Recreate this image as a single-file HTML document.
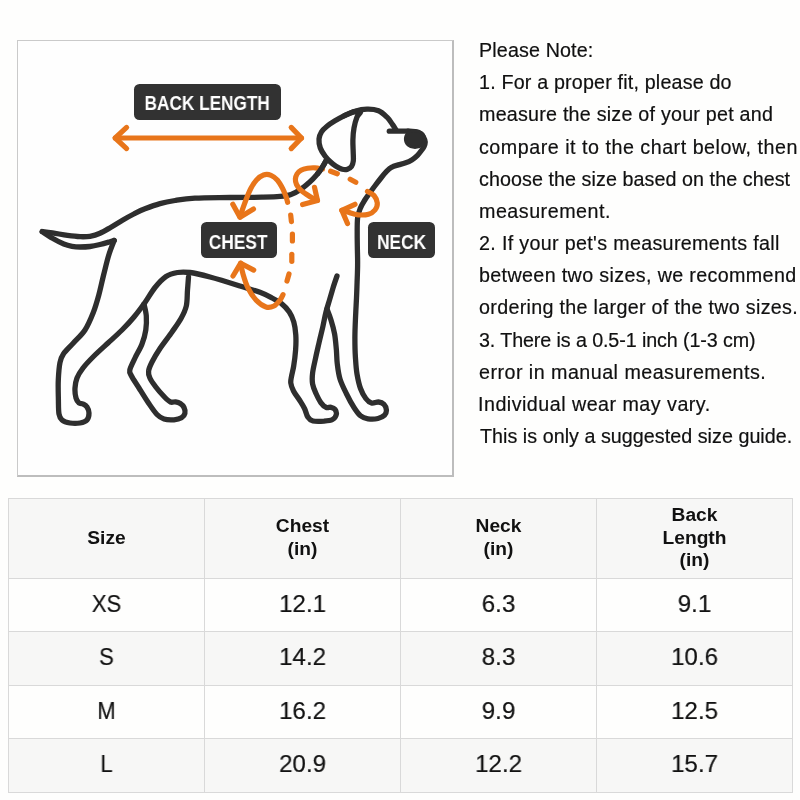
<!DOCTYPE html>
<html><head><meta charset="utf-8"><title>Size guide</title>
<style>
html,body{margin:0;padding:0;background:#fefefd;}
body{width:800px;height:800px;position:relative;overflow:hidden;font-family:"Liberation Sans",sans-serif;color:#1a1a1a;}
.box{position:absolute;left:17px;top:40px;width:434px;height:434px;background:#fefefe;border-left:1px solid #cacaca;border-top:1px solid #cacaca;border-right:2px solid #bdbdbd;border-bottom:2px solid #bdbdbd;box-sizing:content-box;}
svg{position:absolute;left:0;top:0;}
.t{position:absolute;font-size:19.7px;line-height:24px;white-space:nowrap;color:#101010;-webkit-text-stroke:0.2px #101010;}
.lab{position:absolute;background:#323232;border-radius:5.5px;}
.lab span{position:absolute;left:0;top:0;width:100%;height:100%;color:#fff;font-weight:bold;font-size:19.7px;text-align:center;white-space:nowrap;transform:scaleX(0.88);transform-origin:50% 50%;}
.bg,.ln,.th,.td{position:absolute;}
.t,.th,.td,.lab span{will-change:transform;}
.ln{background:#d9d9d9;}
.th{width:197px;text-align:center;font-weight:bold;font-size:19.2px;line-height:22px;color:#111;white-space:nowrap;}
.td{width:197px;text-align:center;font-size:24.5px;line-height:30px;color:#121212;-webkit-text-stroke:0.2px #121212;transform:scaleX(0.9);}
.td.n{transform:scaleX(0.985);}
</style></head><body>
<div class="box"></div>
<svg width="800" height="800" viewBox="0 0 800 800" fill="none" stroke-linecap="round" stroke-linejoin="round">
<g stroke="#2e2e2e" stroke-width="5.3">
<path d="M42.2 231.6 C43.9 231.8 48.3 232.3 52.5 232.9 C56.7 233.5 62.9 234.8 67.5 235.4 C72.1 236.0 76.2 236.5 80.0 236.7 C83.8 236.8 86.7 236.9 90.0 236.3 C93.3 235.7 96.5 234.8 100.0 233.3 C103.5 231.8 107.2 229.4 111.0 227.2 C114.8 225.0 118.7 222.4 122.5 220.2 C126.3 218.0 130.1 215.9 133.8 214.0 C137.6 212.1 140.6 210.5 145.0 208.8 C149.4 207.1 155.0 205.0 160.0 203.6 C165.0 202.2 169.2 201.4 175.0 200.5 C180.8 199.6 185.8 198.7 195.0 198.2 C204.2 197.7 218.8 197.7 230.0 197.5 C241.2 197.3 253.7 197.4 262.0 197.2 C270.3 197.0 275.2 196.9 280.0 196.4 C284.8 195.9 287.5 195.6 291.0 194.4 C294.5 193.2 297.8 191.3 301.0 189.2 C304.2 187.1 307.3 184.2 310.0 181.8 C312.7 179.4 315.0 176.8 317.0 174.5 C319.0 172.2 320.4 170.2 322.0 167.8 C323.6 165.4 325.8 161.3 326.5 160.0"/>
<path d="M42.2 231.6 C43.9 232.7 48.9 236.2 52.5 238.3 C56.1 240.4 60.5 242.7 63.8 244.0 C67.0 245.3 69.3 245.8 72.0 246.3 C74.7 246.8 77.0 247.0 80.0 247.0 C83.0 247.0 86.7 246.9 90.0 246.5 C93.3 246.1 96.7 245.3 100.0 244.5 C103.3 243.7 107.6 242.4 110.0 241.7 C112.4 241.0 113.5 240.6 114.2 240.4"/>
<path d="M114.2 240.4 C113.3 242.8 110.6 249.2 108.8 255.0 C107.0 260.8 105.3 268.3 103.6 275.0 C101.9 281.7 100.5 288.8 98.8 295.0 C97.1 301.2 95.6 306.7 93.3 312.5 C91.0 318.3 88.3 324.9 85.0 330.0 C81.7 335.1 77.0 339.0 73.4 343.0 C69.8 347.0 65.6 350.8 63.4 354.0 C61.2 357.2 60.9 358.2 60.0 362.5 C59.1 366.8 58.6 373.8 58.3 380.0 C58.0 386.2 58.3 394.3 58.4 400.0 C58.5 405.7 58.4 410.7 59.0 414.0 C59.6 417.3 60.2 418.5 62.0 420.0 C63.8 421.5 67.0 422.5 70.0 423.0 C73.0 423.5 77.2 423.5 80.0 423.0 C82.8 422.5 85.5 421.7 87.0 420.0 C88.5 418.3 89.0 415.2 89.0 413.0 C89.0 410.8 88.0 408.5 87.0 407.0 C86.0 405.5 84.3 404.7 83.0 404.0 C81.7 403.3 80.2 404.0 79.0 403.0 C77.8 402.0 76.7 400.5 76.0 398.0 C75.3 395.5 74.8 391.3 75.0 388.0 C75.2 384.7 75.7 381.3 77.0 378.0 C78.3 374.7 80.2 371.7 83.0 368.0 C85.8 364.3 89.8 360.2 94.0 356.0 C98.2 351.8 103.3 347.3 108.0 343.0 C112.7 338.7 117.7 334.3 122.0 330.0 C126.3 325.7 130.2 321.6 134.0 317.0 C137.8 312.4 141.5 307.4 145.0 302.5 C148.5 297.6 151.5 291.8 155.0 287.5 C158.5 283.2 162.2 279.0 166.0 276.5 C169.8 274.0 173.5 273.2 177.5 272.5 C181.5 271.8 184.6 271.8 190.0 272.5 C195.4 273.2 201.7 274.8 210.0 277.0 C218.3 279.2 231.7 283.4 240.0 286.0 C248.3 288.6 254.7 290.3 260.0 292.3 C265.3 294.3 268.4 296.1 272.0 298.0 C275.6 299.9 278.9 301.5 281.8 303.8 C284.7 306.1 287.3 309.0 289.3 312.0 C291.3 315.0 292.7 318.2 293.8 322.0 C294.9 325.8 295.5 330.3 295.8 335.0 C296.1 339.7 296.0 344.8 295.6 350.0 C295.2 355.2 294.4 361.7 293.7 366.0 C293.0 370.3 292.1 373.2 291.6 376.0 C291.1 378.8 290.5 380.5 290.8 383.0 C291.1 385.5 292.1 388.2 293.5 391.0 C294.9 393.8 297.7 397.1 299.5 400.0 C301.3 402.9 303.1 405.7 304.5 408.5 C305.9 411.3 306.4 414.9 307.8 417.0 C309.2 419.1 310.3 420.3 313.0 421.0 C315.7 421.7 320.8 421.4 324.0 421.2 C327.2 420.9 330.4 420.6 332.5 419.5 C334.6 418.4 335.9 416.2 336.3 414.5 C336.7 412.8 335.9 410.5 335.0 409.3 C334.1 408.1 332.5 407.6 331.0 407.3 C329.5 407.0 327.7 408.1 326.0 407.3 C324.3 406.6 322.7 405.1 321.0 402.8 C319.3 400.5 317.4 396.6 316.0 393.5 C314.6 390.4 313.2 387.4 312.6 384.0 C312.0 380.6 312.1 377.3 312.6 373.0 C313.1 368.7 314.5 363.2 315.6 358.0 C316.7 352.8 318.0 347.3 319.2 342.0 C320.4 336.7 321.9 331.0 323.0 326.0 C324.1 321.0 324.9 316.3 326.0 312.0 C327.1 307.7 328.3 304.0 329.5 300.0 C330.7 296.0 331.8 292.0 333.0 288.0 C334.2 284.0 336.3 278.0 337.0 276.0"/>
<path d="M144.0 304.0 C144.4 306.0 146.0 311.7 146.3 316.0 C146.6 320.3 146.5 325.3 145.8 330.0 C145.1 334.7 143.8 339.3 142.0 344.0 C140.2 348.7 137.0 353.7 135.0 358.0 C133.0 362.3 130.4 367.0 129.8 370.0 C129.2 373.0 130.0 373.0 131.5 376.0 C133.0 379.0 136.2 383.5 139.0 388.0 C141.8 392.5 145.5 398.6 148.5 403.0 C151.5 407.4 154.4 411.8 157.0 414.5 C159.6 417.2 161.2 418.1 164.0 419.0 C166.8 419.9 171.1 420.0 174.0 419.8 C176.9 419.6 179.7 418.9 181.5 417.8 C183.3 416.7 184.5 415.0 184.9 413.3 C185.3 411.6 184.8 409.1 184.0 407.5 C183.2 405.9 181.7 404.4 180.3 403.5 C178.9 402.6 177.1 402.1 175.5 401.8 C173.9 401.6 172.3 402.8 170.5 402.0 C168.7 401.2 166.9 399.5 164.5 397.0 C162.1 394.5 158.2 390.2 155.8 387.0 C153.4 383.8 151.1 380.7 149.9 378.0 C148.7 375.3 148.2 373.7 148.6 371.0 C148.9 368.3 150.1 365.8 152.0 362.0 C153.9 358.2 157.0 353.0 160.3 348.0 C163.6 343.0 168.6 336.9 172.0 332.0 C175.4 327.1 178.6 322.8 181.0 318.5 C183.4 314.2 185.2 310.8 186.3 306.0 C187.4 301.2 187.1 294.8 187.5 290.0 C187.9 285.2 188.3 279.2 188.5 277.0"/>
<path d="M327.0 309.0 C327.7 310.8 329.7 315.8 331.0 320.0 C332.3 324.2 333.7 329.0 334.6 334.0 C335.5 339.0 335.9 345.0 336.4 350.0 C336.8 355.0 336.7 359.2 337.3 364.0 C337.9 368.8 338.5 374.1 340.0 379.0 C341.5 383.9 344.0 388.8 346.3 393.5 C348.6 398.2 351.6 403.8 354.0 407.5 C356.4 411.2 358.2 413.9 360.5 415.8 C362.8 417.7 365.1 418.4 368.0 418.8 C370.9 419.2 375.2 419.1 378.0 418.5 C380.8 417.9 383.2 416.6 384.6 415.2 C386.0 413.8 386.5 411.8 386.4 410.0 C386.3 408.2 385.3 405.6 384.0 404.3 C382.7 403.0 380.6 402.2 378.5 402.0 C376.4 401.8 373.6 403.6 371.5 403.0 C369.4 402.4 367.6 400.9 365.8 398.5 C364.0 396.1 362.0 392.6 360.5 388.5 C359.0 384.4 357.9 379.2 357.0 374.0 C356.1 368.8 355.8 363.0 355.4 357.0 C355.0 351.0 354.9 344.5 354.9 338.0 C354.9 331.5 355.2 324.7 355.5 318.0 C355.8 311.3 356.2 304.0 356.5 298.0 C356.8 292.0 356.9 287.5 357.1 282.0 C357.3 276.5 357.6 270.3 357.6 265.0 C357.7 259.7 357.5 255.2 357.4 250.0 C357.3 244.8 357.2 239.3 357.2 234.0 C357.2 228.7 357.1 222.2 357.6 218.0 C358.1 213.8 359.1 211.4 360.2 208.5 C361.3 205.6 362.9 203.1 364.5 200.5 C366.1 197.9 367.9 195.5 369.7 193.0 C371.5 190.5 373.3 188.0 375.2 185.5 C377.1 183.0 379.1 180.4 381.0 178.0 C382.9 175.6 385.0 173.0 386.8 171.2 C388.6 169.4 389.9 168.2 391.8 167.2 C393.7 166.1 396.1 165.6 398.3 164.9 C400.5 164.2 402.8 163.8 405.0 163.0 C407.2 162.2 409.7 161.2 411.8 159.9 C413.9 158.6 415.9 156.9 417.5 155.3 C419.1 153.7 420.5 151.8 421.6 150.3 C422.7 148.8 423.5 147.8 424.1 146.4 C424.7 145.0 425.3 143.4 425.2 141.9 C425.1 140.4 424.4 138.6 423.6 137.2 C422.8 135.8 421.6 134.5 420.2 133.6 C418.8 132.7 417.0 131.9 415.0 131.5 C413.0 131.1 409.2 131.2 408.0 131.2"/>
<path d="M325.0 156.0 C323.4 153.8 321.3 150.8 320.3 148.0 C319.3 145.2 318.8 141.7 319.0 139.0 C319.2 136.3 320.2 133.9 321.5 131.8 C322.8 129.7 324.8 128.0 327.0 126.2 C329.2 124.4 332.2 122.5 335.0 120.8 C337.8 119.1 341.0 117.2 344.0 115.8 C347.0 114.3 350.2 112.8 353.0 112.1 C355.8 111.4 359.8 110.9 360.5 111.7 C361.2 112.5 358.1 114.3 357.0 117.0 C355.9 119.7 354.7 124.2 354.0 128.0 C353.3 131.8 353.0 136.0 352.9 140.0 C352.8 144.0 353.1 148.5 353.2 152.0 C353.3 155.5 353.6 158.6 353.3 161.0 C353.0 163.4 352.5 165.1 351.5 166.5 C350.5 167.9 349.0 168.8 347.5 169.3 C346.0 169.8 344.2 169.8 342.3 169.3 C340.4 168.8 338.1 167.6 336.0 166.3 C333.9 165.0 331.8 163.2 330.0 161.5 C328.2 159.8 326.6 158.2 325.0 156.0Z"/>
<path d="M344.0 115.8 C345.8 115.0 351.2 112.3 355.0 111.2 C358.8 110.1 363.1 109.3 367.0 109.2 C370.9 109.1 375.2 109.5 378.5 110.8 C381.8 112.1 384.6 114.9 387.0 117.2 C389.4 119.5 391.1 122.5 392.6 124.6 C394.1 126.7 395.4 129.1 396.0 130.0"/>
<path d="M389.3 131.2 L408.0 131.2"/>
<ellipse cx="415" cy="139" rx="9.6" ry="8.6" fill="#2e2e2e" stroke-width="3"/>
</g>
<g stroke="#e8751a" stroke-width="5.2">
<path d="M115.2 138.0 L301.5 138.0"/>
<path d="M126.6 127.4 L115.2 138.0 L126.6 148.6"/>
<path d="M291.2 127.4 L301.5 138.0 L291.2 148.6"/>
<path d="M287.6 202.3 C287.3 201.2 286.7 198.3 285.8 196.0 C284.9 193.7 283.9 190.9 282.5 188.3 C281.1 185.7 279.4 182.5 277.5 180.3 C275.6 178.1 273.3 176.2 271.0 175.3 C268.7 174.4 265.9 174.2 263.5 175.0 C261.1 175.8 258.6 177.8 256.5 180.0 C254.4 182.2 252.5 185.3 250.8 188.5 C249.1 191.7 247.7 195.4 246.3 199.0 C244.9 202.6 243.4 207.0 242.3 210.0 C241.2 213.0 240.4 215.8 240.0 217.0"/>
<path d="M232.8 204.2 L240.0 217.2 L253.5 209.0"/>
<path d="M240.7 263.2 C241.1 265.0 241.8 269.9 243.0 274.0 C244.2 278.1 245.8 283.7 248.0 288.0 C250.2 292.3 253.0 296.8 256.0 300.0 C259.0 303.2 263.0 306.0 266.0 307.0 C269.0 308.0 271.7 307.1 274.0 306.0 C276.3 304.9 278.3 302.2 279.8 300.3 C281.3 298.4 282.5 295.6 283.0 294.6"/>
<path d="M233.0 276.0 L240.7 263.2 L253.7 270.1"/>
<path d="M322.5 169.0 C321.2 168.8 317.5 167.9 315.0 167.8 C312.5 167.7 309.8 167.8 307.5 168.2 C305.2 168.6 302.8 169.2 301.0 170.2 C299.2 171.2 297.9 172.5 297.0 174.0 C296.1 175.5 295.5 177.2 295.4 179.0 C295.3 180.8 295.6 182.7 296.5 184.5 C297.4 186.3 298.9 188.2 300.5 189.8 C302.1 191.4 304.1 192.7 306.0 194.0 C307.9 195.3 310.1 196.8 312.0 197.8 C313.9 198.9 316.4 199.9 317.3 200.3"/>
<path d="M314.5 187.3 L317.5 200.6 L302.6 204.6"/>
<path d="M367.5 191.5 C368.6 192.2 372.4 193.6 374.0 195.5 C375.6 197.4 377.1 200.6 377.3 203.0 C377.5 205.4 376.5 208.1 375.0 210.0 C373.5 211.9 371.3 213.4 368.5 214.2 C365.7 215.0 361.3 215.1 358.0 214.8 C354.7 214.5 351.2 213.1 348.5 212.3 C345.8 211.6 342.9 210.6 341.8 210.3"/>
<path d="M355.0 204.3 L341.8 210.3 L347.5 223.5"/>
</g>
<g stroke="#e8751a" stroke-width="5.2">
<path d="M290.7 215.0 L291.4 221.6"/>
<path d="M292.4 234.0 L292.4 241.0"/>
<path d="M291.8 254.3 L291.8 261.3"/>
<path d="M289.0 274.0 L287.0 281.0"/>
<path d="M330.6 171.3 L337.3 173.7"/>
<path d="M350.2 179.3 L355.8 182.2"/>
</g>
<g stroke="#2e2e2e" stroke-width="5.3" stroke-linecap="butt">
<path d="M317.0 174.5 C319.0 172.2 320.4 170.2 322.0 167.8 C323.6 165.4 325.8 161.3 326.5 160.0"/>
</g>
</svg>
<div class="lab" style="left:134.3px;top:83.7px;width:146.4px;height:36.3px;"><span style="line-height:39.3px;left:-0.2px;transform:scaleX(0.874)">BACK LENGTH</span></div>
<div class="lab" style="left:200.6px;top:221.9px;width:76.3px;height:35.8px;"><span style="line-height:40.6px;left:-0.8px">CHEST</span></div>
<div class="lab" style="left:367.9px;top:221.9px;width:67.1px;height:35.8px;"><span style="line-height:40.6px;left:-0.4px">NECK</span></div>
<div class="t" style="top:37.99px;left:478.70px;letter-spacing:0.141px">Please Note:</div>
<div class="t" style="top:70.17px;left:478.70px;letter-spacing:0.179px">1. For a proper fit, please do</div>
<div class="t" style="top:102.35px;left:478.95px;letter-spacing:0.231px">measure the size of your pet and</div>
<div class="t" style="top:134.53px;left:479.45px;letter-spacing:0.512px">compare it to the chart below, then</div>
<div class="t" style="top:166.71px;left:479.45px;letter-spacing:0.074px">choose the size based on the chest</div>
<div class="t" style="top:198.89px;left:478.95px;letter-spacing:0.505px">measurement.</div>
<div class="t" style="top:231.07px;left:479.20px;letter-spacing:0.332px">2. If your pet&#39;s measurements fall</div>
<div class="t" style="top:263.25px;left:478.95px;letter-spacing:0.360px">between two sizes, we recommend</div>
<div class="t" style="top:295.43px;left:479.45px;letter-spacing:0.311px">ordering the larger of the two sizes.</div>
<div class="t" style="top:327.61px;left:479.45px;letter-spacing:-0.100px">3. There is a 0.5-1 inch (1-3 cm)</div>
<div class="t" style="top:359.79px;left:479.45px;letter-spacing:0.471px">error in manual measurements.</div>
<div class="t" style="top:391.97px;left:478.45px;letter-spacing:0.481px">Individual wear may vary.</div>
<div class="t" style="top:424.15px;left:479.95px;letter-spacing:0.041px">This is only a suggested size guide.</div>
<div class="bg" style="left:8px;top:498px;width:785px;height:80px;background:#f7f7f6"></div>
<div class="bg" style="left:8px;top:632px;width:785px;height:53px;background:#f7f7f6"></div>
<div class="bg" style="left:8px;top:739px;width:785px;height:54px;background:#f7f7f6"></div>
<div class="ln" style="left:8px;top:498px;width:1px;height:295px"></div>
<div class="ln" style="left:204px;top:498px;width:1px;height:295px"></div>
<div class="ln" style="left:400px;top:498px;width:1px;height:295px"></div>
<div class="ln" style="left:596px;top:498px;width:1px;height:295px"></div>
<div class="ln" style="left:792px;top:498px;width:1px;height:295px"></div>
<div class="ln" style="left:8px;top:498px;width:785px;height:1px"></div>
<div class="ln" style="left:8px;top:578px;width:785px;height:1px"></div>
<div class="ln" style="left:8px;top:631px;width:785px;height:1px"></div>
<div class="ln" style="left:8px;top:685px;width:785px;height:1px"></div>
<div class="ln" style="left:8px;top:738px;width:785px;height:1px"></div>
<div class="ln" style="left:8px;top:792px;width:785px;height:1px"></div>
<div class="th" style="left:8px;top:527.45px;">Size</div>
<div class="th" style="left:204px;top:515.25px;">Chest</div>
<div class="th" style="left:204px;top:538.45px;">(in)</div>
<div class="th" style="left:400px;top:515.25px;">Neck</div>
<div class="th" style="left:400px;top:538.45px;">(in)</div>
<div class="th" style="left:596px;top:504.25px;">Back</div>
<div class="th" style="left:596px;top:526.95px;">Length</div>
<div class="th" style="left:596px;top:549.45px;">(in)</div>
<div class="td" style="left:8px;top:589.10px;">XS</div>
<div class="td n" style="left:204px;top:589.10px;">12.1</div>
<div class="td n" style="left:400px;top:589.10px;">6.3</div>
<div class="td n" style="left:596px;top:589.10px;">9.1</div>
<div class="td" style="left:8px;top:641.90px;">S</div>
<div class="td n" style="left:204px;top:641.90px;">14.2</div>
<div class="td n" style="left:400px;top:641.90px;">8.3</div>
<div class="td n" style="left:596px;top:641.90px;">10.6</div>
<div class="td" style="left:8px;top:695.90px;">M</div>
<div class="td n" style="left:204px;top:695.90px;">16.2</div>
<div class="td n" style="left:400px;top:695.90px;">9.9</div>
<div class="td n" style="left:596px;top:695.90px;">12.5</div>
<div class="td" style="left:8px;top:749.10px;">L</div>
<div class="td n" style="left:204px;top:749.10px;">20.9</div>
<div class="td n" style="left:400px;top:749.10px;">12.2</div>
<div class="td n" style="left:596px;top:749.10px;">15.7</div>
</body></html>
